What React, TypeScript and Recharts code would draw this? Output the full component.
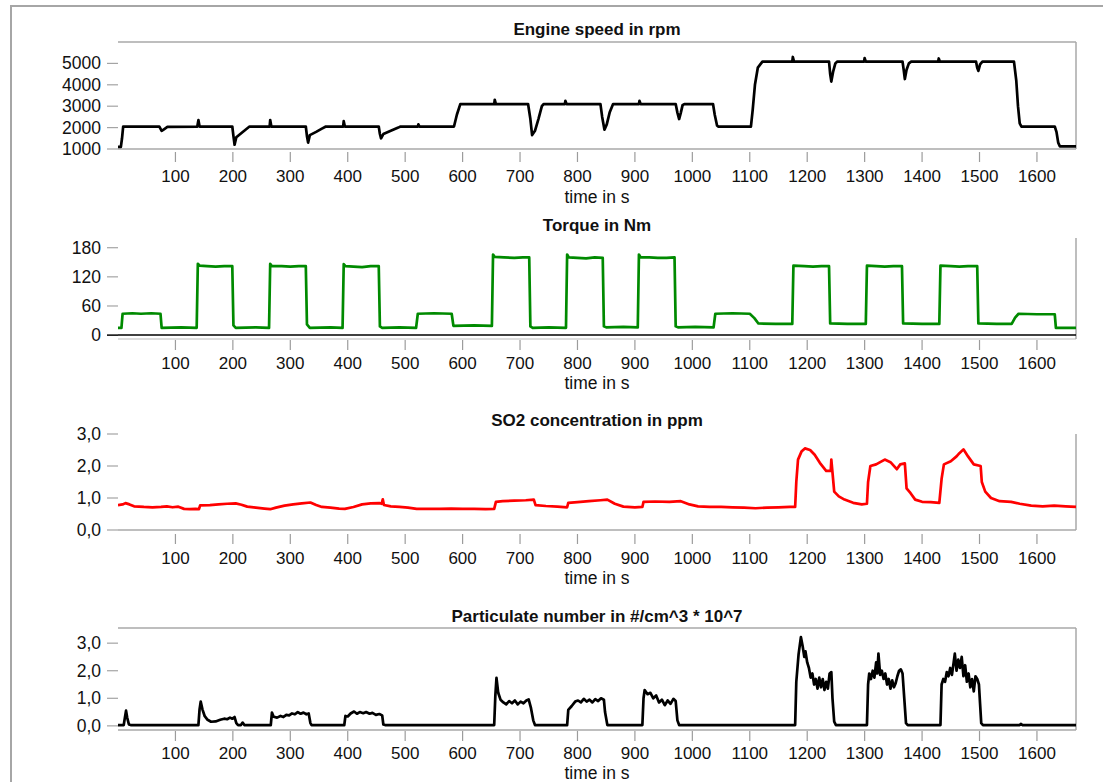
import React from 'react';
import { LineChart, Line, XAxis, YAxis, ReferenceLine } from 'recharts';

// time axis (s)
const T_MAX = 1668;
const timeTicks = [100, 200, 300, 400, 500, 600, 700, 800, 900, 1000, 1100, 1200, 1300, 1400, 1500, 1600];

const speedTicks = [1000, 2000, 3000, 4000, 5000];
const torqueTicks = [0, 60, 120, 180];
const so2Ticks = [0, 1, 2, 3];
const pnTicks = [0, 1, 2, 3];

// [time s, rpm]
const engineSpeed: [number, number][] = [
  [0, 1100], [5, 1100], [7, 1500], [9, 2050], [72, 2050], [76, 1850], [80, 1920], [86, 2030],
  [138, 2040], [140, 2350], [142, 2050], [199, 2050], [201, 1600], [203, 1200], [206, 1550],
  [215, 1750], [222, 1900], [229, 2050], [264, 2050], [265, 2350], [267, 2050], [327, 2050],
  [329, 1600], [331, 1300], [334, 1650], [345, 1800], [355, 1950], [362, 2050], [392, 2050],
  [393, 2300], [395, 2050], [454, 2050], [456, 1700], [458, 1500], [462, 1700], [475, 1850],
  [488, 2000], [492, 2050], [522, 2050], [523, 2150], [525, 2050], [585, 2050], [590, 2600],
  [596, 3100], [655, 3100], [656, 3300], [658, 3100], [714, 3100], [718, 2400], [721, 1650],
  [726, 1850], [732, 2400], [738, 3000], [741, 3100], [778, 3100], [779, 3250], [781, 3100],
  [840, 3100], [843, 2500], [847, 1900], [851, 2150], [856, 2700], [862, 3100], [907, 3100],
  [908, 3250], [910, 3100], [971, 3100], [974, 2700], [977, 2400], [980, 2700], [983, 3050],
  [986, 3100], [1036, 3100], [1039, 2600], [1043, 2100], [1045, 2050], [1102, 2050], [1105, 2800],
  [1109, 4000], [1114, 4800], [1122, 5080], [1174, 5080], [1175, 5300], [1177, 5080], [1238, 5080],
  [1240, 4500], [1242, 4150], [1245, 4600], [1249, 5000], [1252, 5080], [1299, 5080], [1300, 5250],
  [1302, 5080], [1366, 5080], [1368, 4700], [1370, 4270], [1373, 4700], [1377, 5000], [1381, 5080],
  [1428, 5080], [1429, 5230], [1431, 5080], [1494, 5080], [1496, 4800], [1498, 4650], [1501, 4950],
  [1505, 5080], [1560, 5080], [1564, 4200], [1567, 3000], [1570, 2200], [1573, 2050], [1631, 2050],
  [1634, 1800], [1637, 1300], [1640, 1120], [1668, 1120],
];

// [time s, Nm]
const torque: [number, number][] = [
  [0, 15], [6, 15], [8, 44], [25, 45], [40, 44], [58, 45], [74, 44], [76, 15], [110, 16], [137, 15], [139, 147],
  [142, 143], [155, 142], [170, 141], [185, 142], [199, 142], [201, 20], [205, 15], [240, 16], [263, 15], [265, 147],
  [268, 142], [285, 142], [300, 141], [315, 142], [327, 142], [329, 22], [334, 15], [370, 16], [391, 15], [393, 146],
  [396, 142], [410, 141], [425, 140], [440, 142], [454, 142], [456, 18], [460, 15], [490, 16], [519, 15], [522, 44],
  [550, 45], [581, 44], [584, 19], [620, 20], [651, 19], [653, 166], [656, 161], [672, 160], [690, 159], [705, 160],
  [716, 160], [718, 18], [722, 15], [750, 16], [780, 15], [782, 166], [785, 160], [800, 159], [815, 158], [830, 160],
  [844, 159], [846, 18], [850, 16], [880, 17], [905, 16], [907, 166], [910, 160], [925, 160], [940, 159], [955, 159],
  [969, 160], [971, 18], [975, 16], [1005, 17], [1037, 16], [1040, 44], [1070, 45], [1100, 44],
  [1108, 35], [1115, 24], [1145, 23], [1174, 23], [1176, 143], [1195, 142], [1210, 141], [1225, 142], [1238, 142], [1240, 24],
  [1270, 23], [1302, 23], [1304, 143], [1320, 142], [1335, 141], [1350, 142], [1365, 142], [1367, 24], [1400, 23], [1430, 23],
  [1432, 143], [1450, 142], [1465, 141], [1480, 142], [1496, 142], [1498, 24], [1530, 23], [1556, 23], [1562, 36], [1568, 44],
  [1600, 43], [1631, 43], [1633, 15], [1668, 15],
];

// [time s, ppm]
const so2: [number, number][] = [
  [0, 0.78], [8, 0.8], [13, 0.84], [20, 0.8], [28, 0.74], [45, 0.72], [60, 0.71], [75, 0.72],
  [85, 0.74], [95, 0.71], [105, 0.73], [115, 0.66], [125, 0.65], [135, 0.66], [141, 0.65],
  [143, 0.77], [160, 0.78], [175, 0.8], [190, 0.82], [205, 0.83], [215, 0.79], [225, 0.73],
  [240, 0.7], [255, 0.67], [265, 0.65], [275, 0.7], [290, 0.76], [305, 0.8], [320, 0.83],
  [335, 0.86], [345, 0.78], [355, 0.72], [370, 0.7], [385, 0.67], [395, 0.66], [410, 0.72],
  [425, 0.8], [440, 0.83], [455, 0.84], [459, 0.82], [461, 0.96], [463, 0.78], [475, 0.74],
  [490, 0.72], [505, 0.7], [520, 0.66], [540, 0.66], [560, 0.66], [580, 0.67], [600, 0.66],
  [620, 0.66], [640, 0.65], [655, 0.66], [658, 0.88], [670, 0.9], [690, 0.92], [710, 0.93],
  [724, 0.95], [727, 0.78], [745, 0.75], [765, 0.73], [782, 0.71], [784, 0.85], [800, 0.87],
  [820, 0.9], [840, 0.93], [852, 0.95], [865, 0.82], [880, 0.73], [900, 0.71], [913, 0.72],
  [915, 0.88], [935, 0.89], [960, 0.88], [980, 0.9], [995, 0.8], [1010, 0.74], [1030, 0.72],
  [1050, 0.72], [1070, 0.71], [1090, 0.7], [1110, 0.68], [1130, 0.7], [1150, 0.71], [1170, 0.72],
  [1179, 0.72], [1181, 1.5], [1184, 2.2], [1190, 2.45], [1196, 2.55], [1205, 2.5], [1213, 2.35],
  [1222, 2.1], [1233, 1.85], [1241, 1.85], [1242, 2.2], [1244, 1.8], [1247, 1.2], [1255, 1.05],
  [1265, 0.95], [1280, 0.85], [1295, 0.8], [1304, 0.82], [1306, 1.5], [1310, 2.0], [1320, 2.05],
  [1335, 2.2], [1345, 2.12], [1356, 1.9], [1362, 2.05], [1370, 2.08], [1373, 1.3], [1380, 1.15],
  [1388, 0.95], [1400, 0.88], [1415, 0.87], [1430, 0.85], [1434, 1.6], [1438, 2.05], [1450, 2.15],
  [1460, 2.3], [1465, 2.4], [1472, 2.52], [1480, 2.3], [1490, 2.05], [1502, 2.0], [1504, 1.5],
  [1510, 1.2], [1520, 1.0], [1535, 0.9], [1555, 0.88], [1570, 0.82], [1590, 0.76], [1610, 0.74],
  [1630, 0.76], [1650, 0.74], [1668, 0.72],
];

// [time s, #/cm^3 * 10^7]
const particles: [number, number][] = [
  [0, 0.03], [10, 0.03], [12, 0.3], [14, 0.55], [16, 0.3], [19, 0.05], [22, 0.03], [140, 0.03],
  [142, 0.6], [144, 0.88], [147, 0.6], [151, 0.35], [156, 0.22], [162, 0.15], [170, 0.16],
  [178, 0.22], [185, 0.26], [190, 0.24], [195, 0.3], [199, 0.26], [203, 0.32], [206, 0.1],
  [209, 0.03], [214, 0.03], [217, 0.12], [220, 0.03], [266, 0.03], [268, 0.48], [271, 0.33],
  [277, 0.3], [283, 0.36], [288, 0.32], [293, 0.4], [298, 0.38], [303, 0.45], [308, 0.42],
  [313, 0.5], [318, 0.44], [323, 0.48], [328, 0.42], [332, 0.45], [335, 0.1], [337, 0.03],
  [394, 0.03], [396, 0.36], [400, 0.34], [405, 0.45], [411, 0.52], [416, 0.44], [421, 0.5],
  [427, 0.46], [432, 0.5], [438, 0.44], [443, 0.47], [449, 0.4], [455, 0.43], [460, 0.38],
  [462, 0.05], [465, 0.03], [655, 0.03], [657, 1.1], [659, 1.74], [662, 1.2], [666, 0.95],
  [671, 0.85], [676, 0.78], [681, 0.9], [686, 0.82], [691, 0.92], [696, 0.78], [701, 0.88],
  [706, 0.82], [711, 0.92], [715, 0.96], [719, 0.65], [723, 0.2], [726, 0.03], [782, 0.03],
  [784, 0.58], [790, 0.72], [796, 0.88], [801, 0.92], [806, 0.85], [811, 0.98], [816, 0.88],
  [821, 0.95], [826, 0.85], [831, 0.97], [836, 0.9], [841, 1.0], [846, 0.95], [848, 0.5],
  [852, 0.03], [913, 0.03], [915, 1.0], [917, 1.3], [922, 1.15], [927, 1.2], [932, 1.0],
  [937, 1.1], [942, 0.85], [947, 0.95], [952, 0.75], [957, 0.92], [962, 0.8], [967, 0.98],
  [971, 0.9], [974, 0.2], [977, 0.03], [1179, 0.03], [1181, 1.6], [1185, 2.6], [1189, 3.22],
  [1192, 2.9], [1195, 2.5], [1197, 2.7], [1200, 2.3], [1203, 2.1], [1206, 1.75], [1209, 1.9],
  [1212, 1.5], [1215, 1.7], [1218, 1.35], [1221, 1.75], [1224, 1.4], [1227, 1.7], [1230, 1.3],
  [1233, 1.6], [1236, 1.35], [1239, 1.9], [1242, 1.95], [1244, 1.0], [1247, 0.15], [1250, 0.03],
  [1304, 0.03], [1306, 1.5], [1308, 1.9], [1311, 1.7], [1314, 2.0], [1317, 1.75], [1320, 2.3],
  [1322, 1.9], [1324, 2.62], [1327, 1.85], [1330, 2.0], [1333, 1.7], [1336, 1.9], [1339, 1.5],
  [1342, 1.7], [1345, 1.35], [1348, 1.65], [1351, 1.4], [1354, 1.55], [1357, 1.8], [1360, 2.0],
  [1363, 2.05], [1366, 1.9], [1369, 1.0], [1372, 0.1], [1375, 0.03], [1432, 0.03], [1434, 1.5],
  [1437, 1.7], [1440, 1.6], [1443, 1.95], [1446, 1.8], [1449, 2.1], [1452, 1.85], [1455, 2.3],
  [1457, 2.62], [1460, 2.0], [1463, 2.4], [1466, 2.1], [1469, 2.5], [1472, 1.8], [1475, 2.2],
  [1478, 1.6], [1481, 1.9], [1484, 1.4], [1487, 1.7], [1490, 1.25], [1493, 1.8], [1496, 1.7],
  [1499, 1.5], [1501, 0.8], [1503, 0.1], [1506, 0.03], [1570, 0.03], [1572, 0.07], [1575, 0.03],
  [1668, 0.03],
];

const FONT = '"Liberation Sans", Arial, Helvetica, sans-serif';
const TEXT = '#111';
const PLOT_LEFT = 118;
const PLOT_RIGHT = 1076;
const W = 1103;

const comma = (v: number) => v.toFixed(1).replace('.', ',');

function XTick(props: any) {
  const { x, y, payload, tickFrom, labelDy } = props;
  return (
    <g>
      <line x1={x} x2={x} y1={y + tickFrom} y2={y + tickFrom + 10} stroke="#9c9c9c" strokeWidth={1.2} />
      <text x={x} y={y + labelDy} textAnchor="middle" dominantBaseline="central" fontSize={17} fontFamily={FONT} fill={TEXT}>
        {payload.value}
      </text>
    </g>
  );
}

function YTick(props: any) {
  const { x, y, payload, fmt, darkZero } = props;
  const dark = darkZero && payload.value === 0;
  return (
    <g>
      <line x1={x - 11} x2={x} y1={y} y2={y} stroke={dark ? '#000' : '#a4a4a4'} strokeWidth={dark ? 1.5 : 1.2} />
      <text x={x - 17} y={y} textAnchor="end" dominantBaseline="central" fontSize={17.5} fontFamily={FONT} fill={TEXT}>
        {fmt(payload.value)}
      </text>
    </g>
  );
}

interface PanelProps {
  title: string;
  top: number;
  height: number;
  plotTop: number;
  plotBottom: number;
  titleY: number;
  axisTitleY: number;
  tickFrom: number;
  labelDy: number;
  series: [number, number][];
  color: string;
  domain: [number, number];
  yTicks: number[];
  fmt: (v: number) => string;
  topBorder?: boolean;
  zeroLine?: boolean;
}

function Panel(p: PanelProps) {
  const data = p.series.map(([t, v]) => ({ t, v }));
  const axisH = 50;
  const mTop = p.plotTop - p.top;
  const mBottom = p.height - (p.plotBottom - p.top) - axisH;
  const mid = (PLOT_LEFT + PLOT_RIGHT) / 2;
  return (
    <>
      <div style={{ position: 'absolute', left: 0, top: p.top, width: W, height: p.height }}>
        <LineChart width={W} height={p.height} data={data} margin={{ top: mTop, right: W - PLOT_RIGHT, bottom: mBottom, left: 0 }}>
          <XAxis
            type="number"
            dataKey="t"
            domain={[0, T_MAX]}
            ticks={timeTicks}
            interval={0}
            allowDataOverflow
            axisLine={false}
            tickLine={false}
            tickSize={0}
            tickMargin={0}
            height={axisH}
            tick={(tp: any) => <XTick {...tp} tickFrom={p.tickFrom} labelDy={p.labelDy} />}
          />
          <YAxis
            type="number"
            domain={p.domain}
            ticks={p.yTicks}
            interval={0}
            allowDataOverflow
            axisLine={false}
            tickLine={false}
            tickSize={0}
            tickMargin={0}
            width={PLOT_LEFT}
            tick={(tp: any) => <YTick {...tp} fmt={p.fmt} darkZero={p.zeroLine} />}
          />
          <ReferenceLine y={p.domain[0]} stroke={p.zeroLine ? '#d0d0d0' : '#a8a8a8'} strokeWidth={1.5} />
          {p.topBorder && <ReferenceLine y={p.domain[1]} stroke="#a8a8a8" strokeWidth={1.5} />}
          <ReferenceLine x={T_MAX} stroke="#a8a8a8" strokeWidth={1.5} />
          {p.zeroLine && <ReferenceLine y={0} stroke="#000" strokeWidth={1.5} />}
          <Line
            type="linear"
            dataKey="v"
            stroke={p.color}
            strokeWidth={2.7}
            strokeLinejoin="round"
            dot={false}
            isAnimationActive={false}
          />
        </LineChart>
      </div>
      <div style={{ position: 'absolute', left: mid - 300, width: 600, top: p.titleY - 10, height: 20, lineHeight: '20px', textAlign: 'center', fontFamily: FONT, fontWeight: 'bold', fontSize: 17, color: TEXT }}>
        {p.title}
      </div>
      <div style={{ position: 'absolute', left: mid - 200, width: 400, top: p.axisTitleY - 11, height: 22, lineHeight: '22px', textAlign: 'center', fontFamily: FONT, fontSize: 17.5, color: TEXT }}>
        time in s
      </div>
    </>
  );
}

export default function App() {
  return (
    <div style={{ position: 'absolute', left: 0, top: 0, width: W, height: 782, background: '#fff', overflow: 'hidden' }}>
      <div style={{ position: 'absolute', left: 10, top: 5, width: 1200, height: 900, borderLeft: '2px solid #a6a6a6', borderTop: '2px solid #a6a6a6' }} />
      <Panel
        title="Engine speed in rpm"
        top={0} height={200} plotTop={42} plotBottom={149} titleY={30} axisTitleY={197}
        tickFrom={3} labelDy={27}
        series={engineSpeed} color="#000000" domain={[1000, 6000]} yTicks={speedTicks}
        fmt={(v) => String(v)} topBorder
      />
      <Panel
        title="Torque in Nm"
        top={200} height={200} plotTop={238} plotBottom={339} titleY={226} axisTitleY={383}
        tickFrom={1} labelDy={24}
        series={torque} color="#008a00" domain={[-8, 200]} yTicks={torqueTicks}
        fmt={(v) => String(v)} zeroLine
      />
      <Panel
        title="SO2 concentration in ppm"
        top={400} height={200} plotTop={434} plotBottom={530} titleY={421} axisTitleY={578}
        tickFrom={4} labelDy={28}
        series={so2} color="#ff0000" domain={[0, 3]} yTicks={so2Ticks}
        fmt={comma}
      />
      <Panel
        title="Particulate number in #/cm^3 * 10^7"
        top={600} height={182} plotTop={628} plotBottom={730} titleY={617} axisTitleY={773}
        tickFrom={1} labelDy={23}
        series={particles} color="#000000" domain={[-0.15, 3.55]} yTicks={pnTicks}
        fmt={comma} topBorder
      />
    </div>
  );
}
